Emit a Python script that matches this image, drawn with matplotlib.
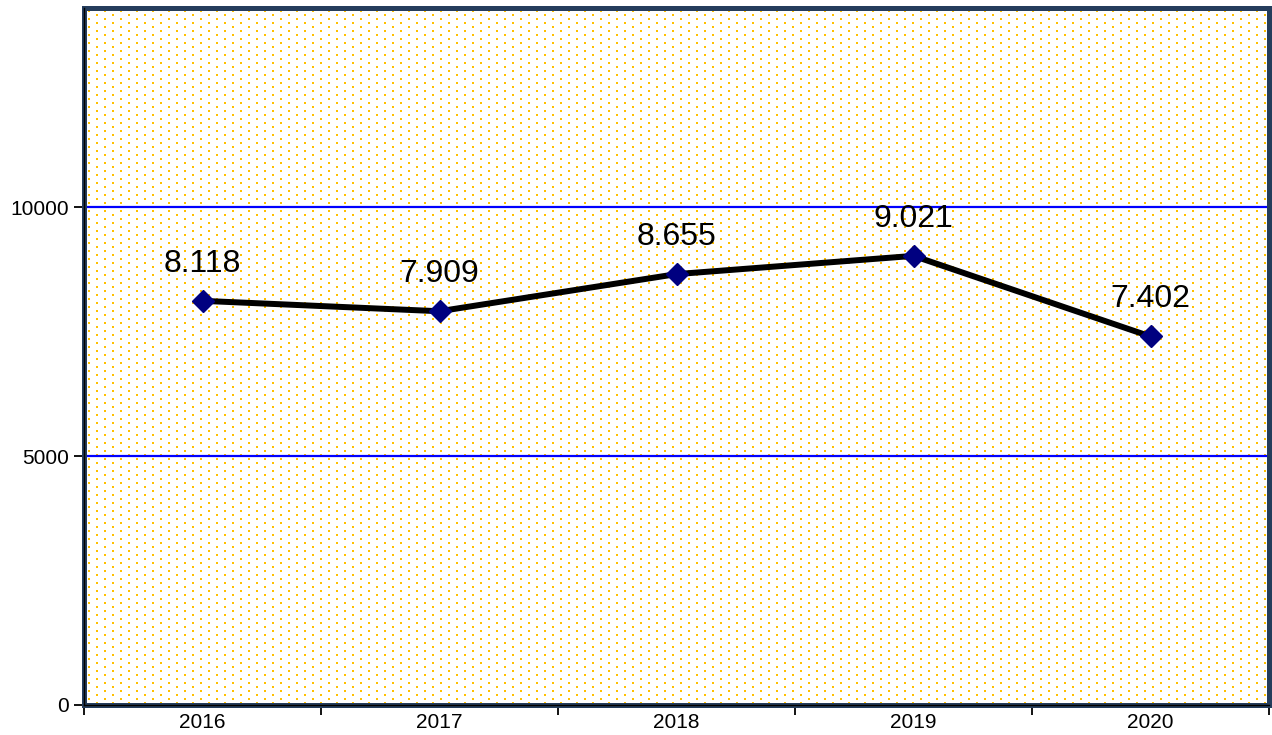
import numpy as np
import matplotlib.pyplot as plt
from matplotlib.ticker import FixedLocator

plt.rcParams['font.family'] = ['Liberation Sans', 'DejaVu Sans']

# yearly totals
years = ['2016', '2017', '2018', '2019', '2020']
totals = [8118, 7909, 8655, 9021, 7402]
total_labels = ['8.118', '7.909', '8.655', '9.021', '7.402']
y_ticks = [0, 5000, 10000]

W, H, DPI = 1272, 735, 100
fig = plt.figure(figsize=(W / DPI, H / DPI), dpi=DPI)

left, right, top, bottom = 84, 1269, 8, 705
ax = fig.add_axes([left / W, (H - bottom) / H, (right - left) / W, (bottom - top) / H])

x = np.arange(len(years))
ax.set_xlim(-0.5, len(years) - 0.5)
ax.set_ylim(0, 14000)

# dotted fill of the plot area, built at pixel resolution
pw, ph = right - left, bottom - top
bg = np.ones((ph, pw, 3))
dot = np.array([1.0, 0.753, 0.0])
for r in range(2, ph - 1, 4):
    off = 4 if (r // 4) % 2 == 0 else 12
    for c in range(off, pw - 1, 16):
        bg[r:r + 2, c:c + 2] = dot
ax.imshow(bg, extent=(-0.5, len(years) - 0.5, 0, 14000), aspect='auto',
          interpolation='nearest', zorder=0)

# horizontal gridlines
for yv in y_ticks[1:]:
    ax.axhline(yv, color='#0000FF', lw=1.6, zorder=1)

ax.plot(x, totals, color='black', lw=4.3, zorder=3,
        marker='D', markersize=11, markerfacecolor='#000080',
        markeredgecolor='#000080')

for xi, v, lab in zip(x, totals, total_labels):
    ax.annotate(lab, (xi, v), xytext=(0, 16), textcoords='offset points',
                ha='center', va='bottom', fontsize=23, color='black', zorder=4)

ax.set_yticks(y_ticks)
ax.set_yticklabels([str(v) for v in y_ticks], fontsize=15)
ax.set_xticks(x)
ax.set_xticklabels(years, fontsize=15)
ax.xaxis.set_minor_locator(FixedLocator(np.arange(-0.5, len(years), 1.0)))
ax.tick_params(axis='x', which='major', length=0, pad=6)
ax.tick_params(axis='x', which='minor', length=7, width=1.3, color='black')
ax.tick_params(axis='y', length=7, width=1.3, color='black', pad=4)

for s in ax.spines.values():
    s.set_color('#253D5C')
    s.set_linewidth(3.6)
ax.axvline(-0.5, color='black', lw=1.0, zorder=5, clip_on=False)
ax.axhline(0, color='black', lw=1.0, zorder=5, clip_on=False)

fig.savefig('out.png', dpi=DPI)
